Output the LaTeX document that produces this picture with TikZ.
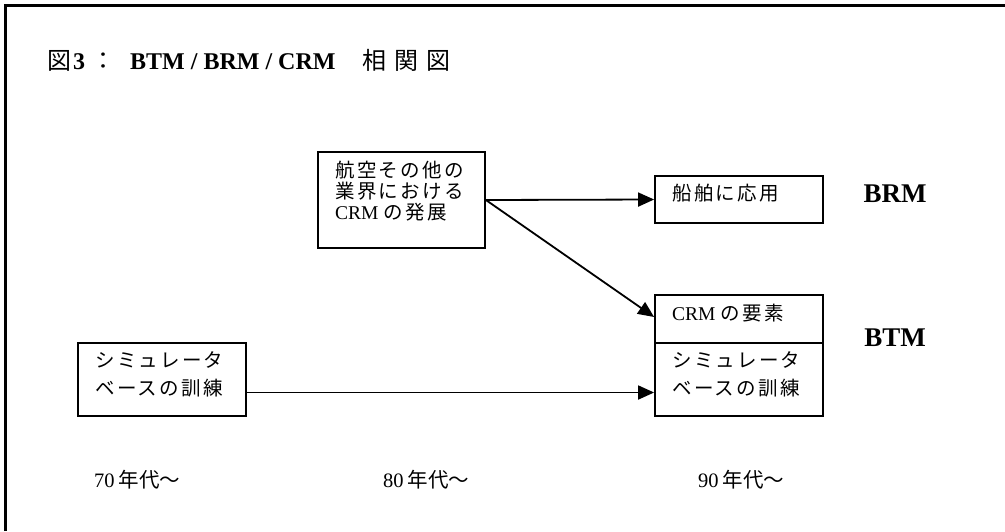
\documentclass[tikz,border=0pt]{standalone}
\usepackage{fontspec}
\setmainfont{Liberation Serif}
\newfontfamily\cjk[LetterSpace=12]{Noto Sans CJK JP}
\newfontfamily\cjkt{Noto Sans CJK JP}
\usetikzlibrary{arrows.meta}
\tikzset{
  box/.style={draw, line width=1.8pt, inner sep=0pt, minimum width=168pt},
  txt/.style={inner sep=0pt, anchor=base west, font=\fontsize{19.5}{21}\selectfont},
  arr/.style={line width=1.8pt, -{Triangle[length=16pt,width=14pt]}},
  lab/.style={inner sep=0pt, font=\fontsize{27}{30}\selectfont\bfseries},
  yr/.style={inner sep=0pt, anchor=base west, font=\fontsize{20.5}{22}\selectfont},
}
\begin{document}
\begin{tikzpicture}[x=1pt,y=-1pt]
\useasboundingbox (0,0) rectangle (1005,531);
\draw[line width=2.2pt] (5.5,531) -- (5.5,5.5) -- (1005,5.5);

% title
\node[inner sep=0pt, anchor=base west, font=\fontsize{24}{28}\selectfont] (title) at (47,69)
  {{\cjkt 図}\kern2pt{\bfseries 3}\kern6pt{\cjkt ：}\kern15pt{\bfseries BTM / BRM / CRM}\kern27pt{\cjkt 相\kern8pt 関\kern8pt 図}};

% boxes
\node[box, minimum width=167pt, minimum height=96pt] (A) at (401.5,200) {};
\node[box, minimum height=47pt] (B) at (739,199.5) {};
\node[box, minimum height=48pt] (C) at (739,319) {};
\node[box, minimum height=73pt] (D) at (739,379.5) {};
\node[box, minimum height=73pt] (E) at (162,379.5) {};

% box texts
\node[txt] (A1) at (335,177) {\cjk 航空その他の};
\node[txt] (A2) at (335,198.5) {\cjk 業界における};
\node[txt] (A3) at (335,219) {CRM {\cjk の発展}};
\node[txt] (B1) at (672,200) {\cjk 船舶に応用};
\node[txt] (C1) at (672,320) {CRM {\cjk の要素}};
\node[txt] (D1) at (672,367) {\cjk シミュレータ};
\node[txt] (D2) at (672,395) {\cjk ベースの訓練};
\node[txt] (E1) at (95,367) {\cjk シミュレータ};
\node[txt] (E2) at (95,395) {\cjk ベースの訓練};

% side labels
\node[lab] (BRM) at (895,194) {BRM};
\node[lab] (BTM) at (895,338) {BTM};

% years
\node[yr] (y70) at (94,487) {70\kern4pt{\cjkt 年代～}};
\node[yr] (y80) at (383,487) {80\kern4pt{\cjkt 年代～}};
\node[yr] (y90) at (698,487) {90\kern4pt{\cjkt 年代～}};

% connectors
\draw[arr] (A.east) -- (B.west);
\draw[arr] (A.east) -- ([yshift=2pt]C.west);
\draw[arr] ([yshift=-13pt]E.east) -- ([yshift=-13pt]D.west);
\end{tikzpicture}
\end{document}
